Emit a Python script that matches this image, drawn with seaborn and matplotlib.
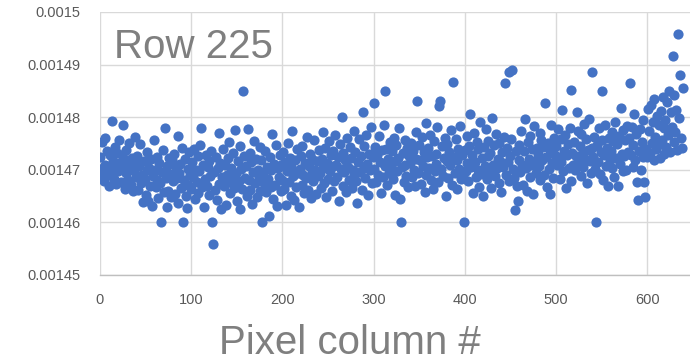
import numpy as np
import pandas as pd
import matplotlib
matplotlib.use("Agg")
import matplotlib.pyplot as plt
import seaborn as sns

# ---- data ----
pixel_column = list(range(640))
value = [
    0.0014724, 0.0014691, 0.0014752, 0.0014703, 0.0014678, 0.0014761, 0.0014710, 0.0014689, 0.0014736, 0.0014702, 0.0014669, 0.0014728, 0.0014695, 0.0014793, 0.0014717, 0.0014682, 0.0014744, 0.0014709, 0.0014673, 0.0014731,
    0.0014698, 0.0014756, 0.0014712, 0.0014676, 0.0014729, 0.0014785, 0.0014701, 0.0014664, 0.0014738, 0.0014693, 0.0014719, 0.0014680, 0.0014750, 0.0014706, 0.0014671, 0.0014722, 0.0014659, 0.0014697, 0.0014763, 0.0014714,
    0.0014686, 0.0014727, 0.0014662, 0.0014708, 0.0014749, 0.0014675, 0.0014690, 0.0014638, 0.0014716, 0.0014683, 0.0014652, 0.0014734, 0.0014699, 0.0014641, 0.0014704, 0.0014670, 0.0014721, 0.0014632, 0.0014688, 0.0014757,
    0.0014700, 0.0014667, 0.0014725, 0.0014681, 0.0014646, 0.0014713, 0.0014674, 0.0014600, 0.0014696, 0.0014737, 0.0014658, 0.0014780, 0.0014685, 0.0014629, 0.0014707, 0.0014660, 0.0014723, 0.0014692, 0.0014649, 0.0014718,
    0.0014679, 0.0014730, 0.0014654, 0.0014705, 0.0014684, 0.0014764, 0.0014636, 0.0014694, 0.0014711, 0.0014665, 0.0014742, 0.0014600, 0.0014680, 0.0014720, 0.0014650, 0.0014628, 0.0014702, 0.0014672, 0.0014733, 0.0014690,
    0.0014663, 0.0014715, 0.0014687, 0.0014739, 0.0014644, 0.0014700, 0.0014676, 0.0014726, 0.0014656, 0.0014698, 0.0014747, 0.0014780, 0.0014668, 0.0014710, 0.0014630, 0.0014682, 0.0014729, 0.0014670, 0.0014706, 0.0014653,
    0.0014717, 0.0014689, 0.0014735, 0.0014600, 0.0014559, 0.0014695, 0.0014661, 0.0014724, 0.0014642, 0.0014703, 0.0014770, 0.0014673, 0.0014712, 0.0014625, 0.0014686, 0.0014740, 0.0014669, 0.0014709, 0.0014634, 0.0014691,
    0.0014722, 0.0014677, 0.0014753, 0.0014655, 0.0014704, 0.0014680, 0.0014731, 0.0014666, 0.0014776, 0.0014693, 0.0014640, 0.0014716, 0.0014679, 0.0014746, 0.0014626, 0.0014701, 0.0014664, 0.0014850, 0.0014727, 0.0014684,
    0.0014708, 0.0014651, 0.0014778, 0.0014681, 0.0014732, 0.0014662, 0.0014714, 0.0014635, 0.0014696, 0.0014754, 0.0014674, 0.0014720, 0.0014648, 0.0014700, 0.0014687, 0.0014743, 0.0014660, 0.0014719, 0.0014600, 0.0014692,
    0.0014675, 0.0014736, 0.0014657, 0.0014706, 0.0014683, 0.0014612, 0.0014725, 0.0014668, 0.0014699, 0.0014768, 0.0014645, 0.0014711, 0.0014671, 0.0014748, 0.0014631, 0.0014703, 0.0014686, 0.0014729, 0.0014659, 0.0014709,
    0.0014680, 0.0014734, 0.0014663, 0.0014715, 0.0014633, 0.0014697, 0.0014751, 0.0014676, 0.0014723, 0.0014650, 0.0014705, 0.0014773, 0.0014688, 0.0014643, 0.0014718, 0.0014667, 0.0014739, 0.0014694, 0.0014629, 0.0014702,
    0.0014726, 0.0014672, 0.0014745, 0.0014690, 0.0014656, 0.0014713, 0.0014685, 0.0014762, 0.0014661, 0.0014708, 0.0014730, 0.0014647, 0.0014696, 0.0014721, 0.0014678, 0.0014757, 0.0014700, 0.0014654, 0.0014716, 0.0014689,
    0.0014737, 0.0014693, 0.0014665, 0.0014720, 0.0014771, 0.0014704, 0.0014675, 0.0014741, 0.0014648, 0.0014712, 0.0014682, 0.0014755, 0.0014698, 0.0014728, 0.0014660, 0.0014707, 0.0014735, 0.0014679, 0.0014766, 0.0014710,
    0.0014686, 0.0014724, 0.0014640, 0.0014749, 0.0014701, 0.0014800, 0.0014670, 0.0014732, 0.0014695, 0.0014719, 0.0014658, 0.0014760, 0.0014706, 0.0014681, 0.0014744, 0.0014722, 0.0014666, 0.0014700, 0.0014774, 0.0014692,
    0.0014733, 0.0014679, 0.0014636, 0.0014714, 0.0014758, 0.0014696, 0.0014727, 0.0014662, 0.0014810, 0.0014703, 0.0014746, 0.0014684, 0.0014767, 0.0014711, 0.0014653, 0.0014730, 0.0014699, 0.0014782, 0.0014674, 0.0014725,
    0.0014827, 0.0014702, 0.0014743, 0.0014676, 0.0014729, 0.0014691, 0.0014765, 0.0014715, 0.0014655, 0.0014738, 0.0014687, 0.0014786, 0.0014708, 0.0014850, 0.0014740, 0.0014672, 0.0014721, 0.0014694, 0.0014753, 0.0014710,
    0.0014735, 0.0014683, 0.0014761, 0.0014652, 0.0014717, 0.0014747, 0.0014697, 0.0014723, 0.0014779, 0.0014645, 0.0014600, 0.0014705, 0.0014731, 0.0014677, 0.0014756, 0.0014709, 0.0014689, 0.0014742, 0.0014668, 0.0014726,
    0.0014713, 0.0014750, 0.0014686, 0.0014736, 0.0014700, 0.0014669, 0.0014772, 0.0014720, 0.0014830, 0.0014693, 0.0014748, 0.0014718, 0.0014673, 0.0014763, 0.0014707, 0.0014733, 0.0014658, 0.0014789, 0.0014690, 0.0014724,
    0.0014741, 0.0014704, 0.0014767, 0.0014680, 0.0014727, 0.0014664, 0.0014754, 0.0014698, 0.0014730, 0.0014711, 0.0014781, 0.0014676, 0.0014821, 0.0014830, 0.0014702, 0.0014745, 0.0014688, 0.0014722, 0.0014760, 0.0014650,
    0.0014716, 0.0014749, 0.0014685, 0.0014734, 0.0014709, 0.0014775, 0.0014671, 0.0014867, 0.0014725, 0.0014694, 0.0014758, 0.0014719, 0.0014663, 0.0014740, 0.0014701, 0.0014784, 0.0014682, 0.0014728, 0.0014690, 0.0014600,
    0.0014737, 0.0014697, 0.0014764, 0.0014712, 0.0014678, 0.0014746, 0.0014806, 0.0014705, 0.0014729, 0.0014656, 0.0014770, 0.0014715, 0.0014686, 0.0014752, 0.0014700, 0.0014739, 0.0014667, 0.0014791, 0.0014692, 0.0014723,
    0.0014650, 0.0014744, 0.0014708, 0.0014778, 0.0014683, 0.0014726, 0.0014755, 0.0014695, 0.0014732, 0.0014665, 0.0014798, 0.0014710, 0.0014747, 0.0014689, 0.0014769, 0.0014703, 0.0014721, 0.0014674, 0.0014750, 0.0014717,
    0.0014658, 0.0014733, 0.0014706, 0.0014762, 0.0014865, 0.0014690, 0.0014741, 0.0014714, 0.0014886, 0.0014679, 0.0014727, 0.0014759, 0.0014890, 0.0014701, 0.0014684, 0.0014624, 0.0014736, 0.0014669, 0.0014640, 0.0014718,
    0.0014748, 0.0014696, 0.0014773, 0.0014710, 0.0014672, 0.0014735, 0.0014796, 0.0014704, 0.0014660, 0.0014753, 0.0014720, 0.0014687, 0.0014765, 0.0014709, 0.0014739, 0.0014654, 0.0014783, 0.0014716, 0.0014693, 0.0014742,
    0.0014730, 0.0014707, 0.0014770, 0.0014681, 0.0014756, 0.0014719, 0.0014743, 0.0014691, 0.0014827, 0.0014724, 0.0014668, 0.0014751, 0.0014702, 0.0014738, 0.0014654, 0.0014786, 0.0014713, 0.0014685, 0.0014761, 0.0014729,
    0.0014746, 0.0014709, 0.0014777, 0.0014722, 0.0014683, 0.0014758, 0.0014715, 0.0014813, 0.0014697, 0.0014735, 0.0014766, 0.0014666, 0.0014728, 0.0014749, 0.0014703, 0.0014780, 0.0014678, 0.0014852, 0.0014731, 0.0014710,
    0.0014753, 0.0014699, 0.0014726, 0.0014810, 0.0014774, 0.0014712, 0.0014745, 0.0014689, 0.0014768, 0.0014730, 0.0014706, 0.0014788, 0.0014721, 0.0014759, 0.0014674, 0.0014737, 0.0014797, 0.0014716, 0.0014694, 0.0014742,
    0.0014885, 0.0014725, 0.0014763, 0.0014701, 0.0014600, 0.0014748, 0.0014714, 0.0014779, 0.0014692, 0.0014734, 0.0014756, 0.0014850, 0.0014680, 0.0014729, 0.0014785, 0.0014708, 0.0014741, 0.0014669, 0.0014760, 0.0014719,
    0.0014736, 0.0014772, 0.0014704, 0.0014754, 0.0014686, 0.0014791, 0.0014723, 0.0014749, 0.0014669, 0.0014765, 0.0014711, 0.0014818, 0.0014730, 0.0014698, 0.0014776, 0.0014727, 0.0014757, 0.0014700, 0.0014784, 0.0014733,
    0.0014760, 0.0014865, 0.0014728, 0.0014782, 0.0014705, 0.0014747, 0.0014806, 0.0014719, 0.0014769, 0.0014677, 0.0014643, 0.0014735, 0.0014778, 0.0014699, 0.0014752, 0.0014724, 0.0014794, 0.0014676, 0.0014648, 0.0014740,
    0.0014725, 0.0014816, 0.0014774, 0.0014732, 0.0014824, 0.0014750, 0.0014790, 0.0014718, 0.0014835, 0.0014762, 0.0014739, 0.0014803, 0.0014747, 0.0014786, 0.0014722, 0.0014812, 0.0014756, 0.0014839, 0.0014730, 0.0014779,
    0.0014795, 0.0014743, 0.0014828, 0.0014766, 0.0014850, 0.0014734, 0.0014809, 0.0014781, 0.0014916, 0.0014753, 0.0014842, 0.0014772, 0.0014814, 0.0014738, 0.0014958, 0.0014798, 0.0014880, 0.0014760, 0.0014742, 0.0014855,
]
x_ticks = [0, 100, 200, 300, 400, 500, 600]
x_tick_labels = ["0", "100", "200", "300", "400", "500", "600"]
y_ticks = [0.00145, 0.00146, 0.00147, 0.00148, 0.00149, 0.0015]
y_tick_labels = ["0.00145", "0.00146", "0.00147", "0.00148", "0.00149", "0.0015"]
panel_label = "Row 225"
x_label = "Pixel column #"

df = pd.DataFrame({"col": pixel_column, "val": value})

sns.set_style("white")
plt.rcParams["font.family"] = ["Liberation Sans", "DejaVu Sans"]

fig = plt.figure(figsize=(6.9, 3.62), dpi=100)
ax = fig.add_axes([100 / 690, 1 - 275 / 362, 590 / 690, 263 / 362])

sns.scatterplot(data=df, x="col", y="val", ax=ax, color="#4472C4",
                s=54, linewidth=0, alpha=1.0, zorder=3)

ax.set_xlim(0, 647)
ax.set_ylim(0.00145, 0.0015)
ax.set_xticks(x_ticks)
ax.set_xticklabels(x_tick_labels)
ax.set_yticks(y_ticks)
ax.set_yticklabels(y_tick_labels)
ax.tick_params(axis="both", length=0, labelsize=10.5, labelcolor="#595959")
ax.tick_params(axis="x", pad=13)
ax.tick_params(axis="y", pad=14)

ax.grid(True, color="#d9d9d9", linewidth=1.0, zorder=0)
ax.set_axisbelow(True)
for s in ["top", "right", "left"]:
    ax.spines[s].set_visible(False)
ax.spines["bottom"].set_color("#bfbfbf")
ax.spines["bottom"].set_linewidth(1.0)

ax.set_xlabel("")
ax.set_ylabel("")

fig.text(114 / 690, 1 - 47 / 362, panel_label, fontsize=29, color="#7f7f7f",
         ha="left", va="center")
fig.text(350 / 690, 1 - 343 / 362, x_label, fontsize=29, color="#7f7f7f",
         ha="center", va="center")

fig.savefig("out.png", dpi=100)
